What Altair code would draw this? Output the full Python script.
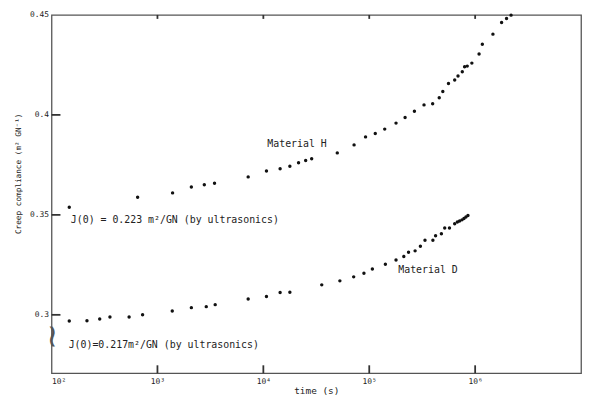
import altair as alt
import pandas as pd

# Material H (upper series)
H_t = [147, 650, 1390, 2090, 2770, 3460, 7190, 10700, 14400, 17800, 21500, 25100, 28600,
       49900, 71900, 92300, 114000, 140000, 179000, 218000, 267000, 329000, 397000, 458000,
       495000, 560000, 641000, 689000, 756000, 795000, 842000, 931000, 1089000, 1169000,
       1472000, 1777000, 1979000, 2183000]
H_J = [0.3538, 0.3588, 0.3610, 0.3639, 0.3651, 0.3658, 0.3690, 0.3719, 0.3731, 0.3743, 0.3761,
       0.3772, 0.3781, 0.3810, 0.3850, 0.3890, 0.3907, 0.3929, 0.3959, 0.3987, 0.4018, 0.4050,
       0.4056, 0.4086, 0.4117, 0.4157, 0.4175, 0.4195, 0.4216, 0.4241, 0.4244, 0.4259, 0.4305,
       0.4353, 0.4404, 0.4462, 0.4482, 0.4499]

# Material D (lower series)
D_t = [147, 216, 285, 356, 540, 724, 1380, 2090, 2890, 3510, 7190, 10700, 14400, 17800,
       35600, 52800, 71300, 89100, 107000, 142000, 179000, 212000, 235000, 271000, 304000,
       336000, 399000, 423000, 480000, 516000, 572000, 641000, 679000, 713000, 751000, 784000,
       818000, 855000]
D_J = [0.2969, 0.2970, 0.2979, 0.2989, 0.2989, 0.3000, 0.3019, 0.3036, 0.3041, 0.3051, 0.3079,
       0.3092, 0.3112, 0.3113, 0.3150, 0.3170, 0.3190, 0.3208, 0.3229, 0.3253, 0.3274, 0.3292,
       0.3313, 0.3320, 0.3343, 0.3373, 0.3373, 0.3396, 0.3406, 0.3434, 0.3434, 0.3456, 0.3464,
       0.3469, 0.3475, 0.3482, 0.3489, 0.3497]

x_ticks = [100, 1000, 10000, 100000, 1000000]
y_ticks = [0.3, 0.35, 0.4, 0.45]

ann_text = ["Material  H", "Material  D", "J(0) = 0.223 m²/GN (by  ultrasonics)",
            "J(0)=0.217m²/GN (by  ultrasonics)"]
ann_t = [10900, 188000, 152, 145]
ann_J = [0.3852, 0.3224, 0.3475, 0.2847]

X_MIN, X_MAX = 100, 1e7
Y_MIN, Y_MAX = 0.2708, 0.45

FONT = "DejaVu Sans Mono"
INK = "#222222"
AX = "#555555"
W, H = 535, 362

pts = pd.DataFrame({"t": H_t + D_t, "J": H_J + D_J})
ann = pd.DataFrame({"text": ann_text, "t": ann_t, "J": ann_J})
brk = pd.DataFrame({"t": [X_MIN], "J": [0.2891], "s": ["~"]})

# inward tick marks: ends expressed in data units derived from the axis ranges
px_x = 10 ** (5 / W)
px_y = (Y_MAX - Y_MIN) / H
tick_rows = []
for t in x_ticks[1:]:
    tick_rows.append({"x1": t, "x2": t, "y1": Y_MIN, "y2": Y_MIN + 8 * px_y})
    tick_rows.append({"x1": t, "x2": t, "y1": Y_MAX, "y2": Y_MAX - 4 * px_y})
for v in y_ticks[:-1]:
    tick_rows.append({"x1": X_MIN, "x2": X_MIN * px_x ** 9, "y1": v, "y2": v})
ticks_df = pd.DataFrame(tick_rows)

xscale = alt.Scale(type="log", domain=[X_MIN, X_MAX], nice=False)
yscale = alt.Scale(domain=[Y_MIN, Y_MAX], nice=False, zero=False)

sup = "['⁰','¹','²','³','⁴','⁵','⁶','⁷'][round(log(datum.value)/LN10)]"

points = alt.Chart(pts).mark_circle(size=12, color="#111111", opacity=1).encode(
    x=alt.X("t:Q", scale=xscale,
            axis=alt.Axis(values=x_ticks, title="time (s)", labelExpr="'10' + " + sup,
                          ticks=False, domain=False, grid=False, labelPadding=4,
                          titlePadding=0, labelFontSize=8, titleFontSize=9.5,
                          labelFont=FONT, titleFont=FONT, labelColor=INK, titleColor=INK,
                          titleFontWeight="normal")),
    y=alt.Y("J:Q", scale=yscale,
            axis=alt.Axis(values=y_ticks, format="~g", title="Creep compliance (m² GN⁻¹)",
                          ticks=False, domain=False, grid=False, labelPadding=3,
                          labelFontSize=8, titleFontSize=7.8, labelFont=FONT,
                          titleFont=FONT, labelColor=INK, titleColor=INK,
                          titleFontWeight="normal", titleX=-29, titleY=160)),
)

texts = alt.Chart(ann).mark_text(align="left", baseline="middle", font=FONT, fontSize=10,
                                 color=INK).encode(
    x=alt.X("t:Q", scale=xscale), y=alt.Y("J:Q", scale=yscale), text="text:N")

tick_marks = alt.Chart(ticks_df).mark_rule(color="#333333", strokeWidth=1.8,
                                           opacity=1).encode(
    x=alt.X("x1:Q", scale=xscale), x2="x2:Q",
    y=alt.Y("y1:Q", scale=yscale), y2="y2:Q")

brk_mark = alt.Chart(brk).mark_text(font="DejaVu Sans", fontSize=32, angle=90,
                                    color=AX).encode(
    x=alt.X("t:Q", scale=xscale), y=alt.Y("J:Q", scale=yscale), text="s:N")

chart = alt.layer(points, texts, tick_marks, brk_mark).properties(
    width=W, height=H,
    autosize=alt.AutoSizeParams(type="none"),
    padding={"left": 44, "top": 5, "right": 5, "bottom": 20},
    background="white",
).configure_view(stroke=AX, strokeWidth=1.3)

chart.save("out.html", embed_options={"renderer": "svg", "actions": False})
